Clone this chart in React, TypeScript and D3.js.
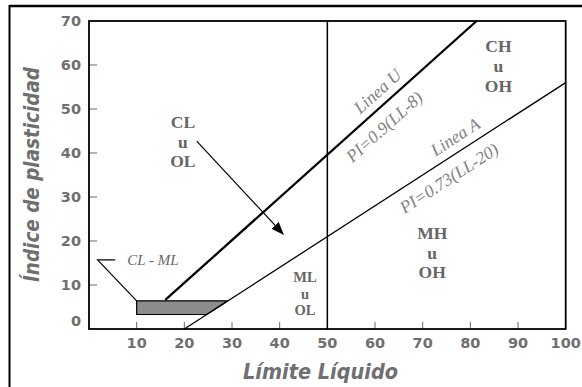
import React from "react";
import * as d3 from "d3";

const xTicks = [10, 20, 30, 40, 50, 60, 70, 80, 90, 100];
const yTicks = [0, 10, 20, 30, 40, 50, 60, 70];
const uLine = [{ ll: 16, pi: 6.6 }, { ll: 81.3, pi: 70 }];
const aLine = [{ ll: 20, pi: 0 }, { ll: 100, pi: 56 }];
const divideLL = 50;
const clmlBand = [
  { ll: 10, pi: 6.4 },
  { ll: 29.1, pi: 6.4 },
  { ll: 24.7, pi: 3.3 },
  { ll: 10, pi: 3.3 },
];
const clmlLeader = [{ ll: 5.5, pi: 15.7 }, { ll: 1.8, pi: 15.7 }, { ll: 10, pi: 6.4 }];
const clmlLabel = { text: "CL - ML", ll: 13.4, pi: 15.7 };
const arrowLine = [{ ll: 22.6, pi: 42.7 }, { ll: 40.7, pi: 21.6 }];
const regionLabels = [
  { lines: ["CL", "u", "OL"], ll: 19.7, pi: 46.9, size: 17.5, gap: 19.2 },
  { lines: ["CH", "u", "OH"], ll: 85.9, pi: 64.2, size: 17.5, gap: 19.7 },
  { lines: ["MH", "u", "OH"], ll: 72, pi: 21.75, size: 17.5, gap: 19.7 },
  { lines: ["ML", "u", "OL"], ll: 45.3, pi: 11.7, size: 14.5, gap: 16.2 },
];
const lineLabels = [
  { text: "Linea U", ll: 60.5, pi: 54.1, line: uLine },
  { text: "PI=0.9(LL-8)", ll: 61.9, pi: 46, line: uLine },
  { text: "Linea A", ll: 76.8, pi: 43.7, line: aLine },
  { text: "PI=0.73(LL-20)", ll: 75.5, pi: 34.3, line: aLine },
];
const xTitle = "Límite Líquido";
const yTitle = "Índice de plasticidad";

const W = 582;
const H = 387;

export default function App() {
  const x = d3.scaleLinear().domain([0, 100]).range([89, 565.7]);
  const y = d3.scaleLinear().domain([0, 70]).range([329, 21]);
  const line = d3
    .line<{ ll: number; pi: number }>()
    .x((d) => x(d.ll))
    .y((d) => y(d.pi));
  const angleOf = (l: { ll: number; pi: number }[]) => {
    const dx = x(l[1].ll) - x(l[0].ll);
    const dy = y(l[1].pi) - y(l[0].pi);
    return (Math.atan2(dy, dx) * 180) / Math.PI;
  };
  const tickColor = "#6f6f6f";
  const serif = "'Liberation Serif', 'Times New Roman', serif";
  const sans = "'DejaVu Sans', sans-serif";
  const [x0, x1] = x.range();
  const [y0, y1] = y.range();

  return (
    <svg
      width={W}
      height={H}
      style={{ position: "absolute", left: 0, top: 0, background: "#fff" }}
    >
      <defs>
        <marker
          id="arrowhead"
          viewBox="0 0 10 10"
          refX="9"
          refY="5"
          markerWidth="13"
          markerHeight="10"
          markerUnits="userSpaceOnUse"
          orient="auto"
          preserveAspectRatio="none"
        >
          <path d="M0,0 L10,5 L0,10 z" fill="#000" />
        </marker>
      </defs>
      {/* outer frame */}
      <line x1={9.5} y1={6} x2={W + 2} y2={6} stroke="#000" strokeWidth={2.5} />
      <line x1={9.5} y1={5} x2={9.5} y2={H + 2} stroke="#000" strokeWidth={2} />

      {/* ticks (inward) */}
      {xTicks.map((t) => (
        <line key={"xt" + t} x1={x(t)} x2={x(t)} y1={y0} y2={y0 - 7} stroke="#666" strokeWidth={1} />
      ))}
      {yTicks.filter((t) => t > 0 && t < 70).map((t) => (
        <line key={"yt" + t} x1={x0} x2={x0 + 8} y1={y(t)} y2={y(t)} stroke="#666" strokeWidth={1} />
      ))}

      {/* CL-ML band */}
      <path d={line(clmlBand)! + "Z"} fill="#8c8c8c" stroke="#000" strokeWidth={1.2} />
      <path d={line(clmlLeader)!} fill="none" stroke="#000" strokeWidth={1.2} />
      <text
        x={x(clmlLabel.ll)}
        y={y(clmlLabel.pi)}
        dy="0.35em"
        textAnchor="middle"
        fontFamily={serif}
        fontStyle="italic"
        fontSize={15}
        fill="#666"
      >
        {clmlLabel.text}
      </text>

      {/* A line and U line */}
      <path d={line(aLine)!} fill="none" stroke="#000" strokeWidth={1.3} />
      <path d={line(uLine)!} fill="none" stroke="#000" strokeWidth={2.3} />
      <line x1={x(divideLL)} x2={x(divideLL)} y1={y0} y2={y1} stroke="#000" strokeWidth={1.5} />

      {/* arrow */}
      <path d={line(arrowLine)!} fill="none" stroke="#000" strokeWidth={1.2} markerEnd="url(#arrowhead)" />

      {/* plot frame */}
      <rect x={x0} y={y1} width={x1 - x0} height={y0 - y1} fill="none" stroke="#000" strokeWidth={1.8} />

      {/* region labels */}
      {regionLabels.map((r, i) => (
        <text
          key={"r" + i}
          textAnchor="middle"
          fontFamily={serif}
          fontWeight="bold"
          fontSize={r.size}
          fill="#666"
        >
          {r.lines.map((s, j) => (
            <tspan
              key={j}
              x={x(r.ll)}
              y={y(r.pi) + j * r.gap + r.size * 0.33}
            >
              {s}
            </tspan>
          ))}
        </text>
      ))}

      {/* line labels */}
      {lineLabels.map((l, i) => (
        <text
          key={"l" + i}
          transform={`translate(${x(l.ll)},${y(l.pi)}) rotate(${angleOf(l.line)})`}
          textAnchor="middle"
          dy="0.35em"
          fontFamily={serif}
          fontStyle="italic"
          fontSize={17.5}
          fill="#808080"
        >
          {l.text}
        </text>
      ))}

      {/* tick labels */}
      {xTicks.map((t) => (
        <text
          key={"xl" + t}
          x={x(t)}
          y={y0 + 14}
          dy="0.35em"
          textAnchor="middle"
          fontFamily={sans}
          fontWeight="bold"
          fontSize={14.5}
          fill={tickColor}
        >
          {t}
        </text>
      ))}
      {yTicks.map((t) => (
        <text
          key={"yl" + t}
          x={x0 - 8}
          y={t === 0 ? y(t) - 8 : y(t)}
          dy="0.35em"
          textAnchor="end"
          fontFamily={sans}
          fontWeight="bold"
          fontSize={14.5}
          fill={tickColor}
        >
          {t}
        </text>
      ))}

      {/* axis titles */}
      <text
        x={320.5}
        y={372}
        dy="0.35em"
        textAnchor="middle"
        fontFamily={sans}
        fontWeight="bold"
        fontStyle="italic"
        fontSize={20.5}
        textLength={155}
        lengthAdjust="spacingAndGlyphs"
        fill={tickColor}
      >
        {xTitle}
      </text>
      <text
        transform={`translate(32,174.5) rotate(-90)`}
        dy="0.35em"
        textAnchor="middle"
        fontFamily={sans}
        fontWeight="bold"
        fontStyle="italic"
        fontSize={20.5}
        textLength={215}
        lengthAdjust="spacingAndGlyphs"
        fill={tickColor}
      >
        {yTitle}
      </text>
    </svg>
  );
}
